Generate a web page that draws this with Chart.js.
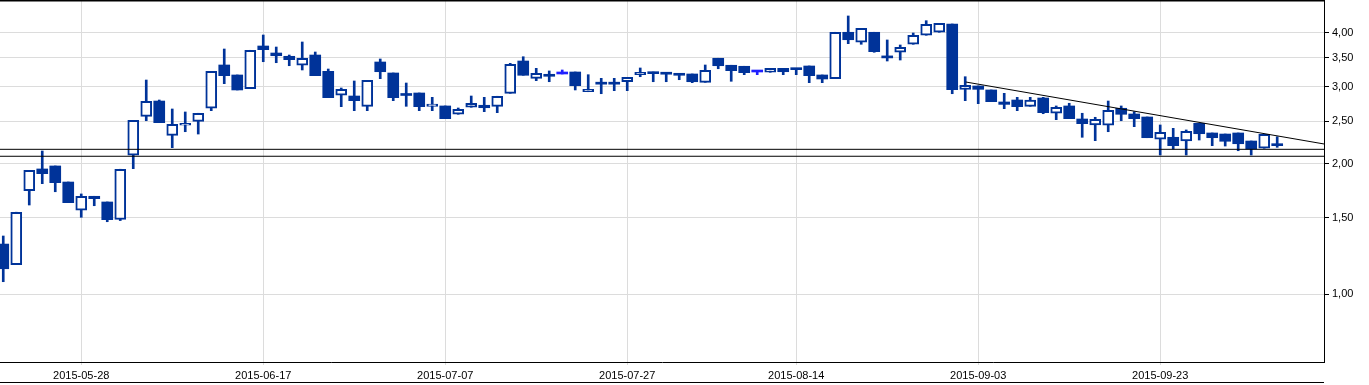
<!DOCTYPE html>
<html>
<head>
<meta charset="utf-8">
<script src="https://cdn.jsdelivr.net/npm/chart.js@4.4.1/dist/chart.umd.min.js"></script>
<style>
  html, body { margin: 0; padding: 0; background: #fff; }
  #wrap { width: 1369px; height: 385px; }
</style>
</head>
<body>
<div id="wrap"><canvas id="priceChart"></canvas></div>
<script>
// daily candles, one per trading day (index 0..98)
const openPrices = [
  1.305, 1.170, 1.732, 1.943, 1.974, 1.813, 1.561, 1.681, 1.631, 1.488,
  2.089, 2.568, 2.785, 2.322, 2.449, 2.501, 2.680, 3.371, 3.197, 2.973,
  3.728, 3.592, 3.530, 3.366, 3.554, 3.260, 2.871, 2.860, 2.708, 3.425,
  3.231, 2.875, 2.906, 2.708, 2.713, 2.596, 2.694, 2.723, 2.708, 2.901,
  3.443, 3.141, 3.202, 3.214, 3.248, 2.926, 3.060, 3.058, 3.085, 3.202,
  3.248, 3.236, 3.219, 3.214, 3.075, 3.493, 3.366, 3.348, 3.248, 3.243,
  3.312, 3.312, 3.353, 3.197, 3.135, 4.009, 3.802, 4.009, 3.510, 3.606,
  3.762, 3.946, 4.009, 4.189, 2.963, 3.016, 2.953, 2.771, 2.800, 2.708,
  2.830, 2.610, 2.713, 2.532, 2.453, 2.449, 2.680, 2.600, 2.559, 2.274,
  2.298, 2.253, 2.475, 2.351, 2.338, 2.351, 2.253, 2.168, 2.209
];
const highPrices = [
  1.362, 1.545, 1.929, 2.137, 1.974, 1.813, 1.702, 1.681, 1.631, 1.940,
  2.514, 3.113, 2.800, 2.670, 2.628, 2.610, 3.260, 3.669, 3.197, 3.644,
  3.952, 3.708, 3.554, 3.808, 3.611, 3.300, 2.984, 3.097, 3.108, 3.480,
  3.231, 3.064, 2.906, 2.840, 2.713, 2.684, 2.860, 2.840, 2.856, 3.401,
  3.522, 3.312, 3.266, 3.283, 3.248, 3.202, 3.141, 3.141, 3.158, 3.318,
  3.248, 3.236, 3.219, 3.214, 3.371, 3.493, 3.366, 3.348, 3.248, 3.312,
  3.312, 3.312, 3.353, 3.197, 4.009, 4.371, 4.094, 4.009, 3.849, 3.748,
  3.994, 4.263, 4.204, 4.189, 3.168, 3.016, 2.953, 2.901, 2.840, 2.840,
  2.840, 2.713, 2.752, 2.610, 2.555, 2.785, 2.713, 2.632, 2.559, 2.453,
  2.410, 2.389, 2.475, 2.351, 2.338, 2.351, 2.253, 2.335, 2.305
];
const lowPrices = [
  1.069, 1.170, 1.605, 1.797, 1.722, 1.625, 1.504, 1.599, 1.469, 1.478,
  1.946, 2.509, 2.483, 2.175, 2.367, 2.338, 2.646, 3.053, 2.953, 2.973,
  3.430, 3.412, 3.358, 3.283, 3.185, 2.835, 2.703, 2.646, 2.646, 3.135,
  2.790, 2.708, 2.646, 2.646, 2.536, 2.596, 2.694, 2.632, 2.618, 2.901,
  3.192, 3.102, 3.085, 3.214, 2.953, 2.926, 2.895, 2.942, 2.942, 3.168,
  3.085, 3.085, 3.118, 3.069, 3.075, 3.305, 3.092, 3.202, 3.202, 3.243,
  3.202, 3.202, 3.069, 3.069, 3.135, 3.774, 3.762, 3.606, 3.443, 3.461,
  3.762, 3.946, 4.009, 2.895, 2.790, 2.746, 2.775, 2.674, 2.646, 2.708,
  2.604, 2.523, 2.536, 2.298, 2.257, 2.367, 2.509, 2.431, 2.293, 2.092,
  2.160, 2.092, 2.265, 2.198, 2.194, 2.140, 2.092, 2.168, 2.179
];
const closePrices = [
  1.145, 1.544, 1.929, 1.895, 1.807, 1.625, 1.681, 1.660, 1.485, 1.940,
  2.514, 2.781, 2.483, 2.462, 2.475, 2.610, 3.260, 3.185, 2.953, 3.644,
  3.656, 3.541, 3.467, 3.493, 3.185, 2.835, 2.963, 2.790, 3.108, 3.253,
  2.835, 2.868, 2.703, 2.741, 2.536, 2.666, 2.752, 2.688, 2.856, 3.383,
  3.192, 3.226, 3.175, 3.214, 3.021, 2.963, 3.045, 3.045, 3.158, 3.243,
  3.219, 3.210, 3.192, 3.085, 3.277, 3.358, 3.271, 3.236, 3.248, 3.312,
  3.253, 3.288, 3.185, 3.130, 4.009, 3.854, 4.094, 3.617, 3.500, 3.702,
  3.946, 4.182, 4.204, 2.957, 3.027, 2.963, 2.775, 2.736, 2.703, 2.800,
  2.618, 2.694, 2.536, 2.470, 2.527, 2.651, 2.596, 2.536, 2.293, 2.360,
  2.198, 2.372, 2.342, 2.293, 2.250, 2.221, 2.160, 2.335, 2.198
];

// axis labels
const tickIndex = [6, 20, 34, 48, 61, 75, 89];
const tickLabels = ['2015-05-28', '2015-06-17', '2015-07-07', '2015-07-27', '2015-08-14', '2015-09-03', '2015-09-23'];
const priceTicks = [1.00, 1.50, 2.00, 2.50, 3.00, 3.50, 4.00];

// drawn lines: two horizontal levels and a falling trend line
const supportLevels = [2.156, 2.078];
const trendIndex = [74.05, 101.6];
const trendPrice = [3.08, 2.218];

const xMin = -0.25, xMax = 101.6;
const yMin = 0.6985, yMax = 4.757;

const navy = '#003399';
const dojiBlue = '#1f1fff';

function candleColor(i) {
  return closePrices[i] === openPrices[i] ? dojiBlue : navy;
}

Chart.defaults.font.family = "'Liberation Sans', Arial, sans-serif";
Chart.defaults.font.size = 11;
Chart.defaults.color = '#000';

const framePlugin = {
  id: 'frame',
  afterDraw(chart) {
    const { ctx, chartArea } = chart;
    ctx.save();
    ctx.strokeStyle = '#000';
    ctx.lineWidth = 1.5;
    ctx.beginPath();
    ctx.moveTo(chartArea.left, 0.75);
    ctx.lineTo(chartArea.right, 0.75);
    ctx.stroke();
    ctx.lineWidth = 1;
    ctx.beginPath();
    ctx.moveTo(chartArea.left, chart.height - 2.5);
    ctx.lineTo(chartArea.right, chart.height - 2.5);
    ctx.stroke();
    ctx.restore();
  }
};

const levelSets = supportLevels.map(level => ({
  type: 'line',
  data: [{ x: xMin, y: level }, { x: xMax, y: level }],
  borderColor: '#000',
  borderWidth: 1,
  pointRadius: 0,
  order: 1
}));

const ctx = document.getElementById('priceChart').getContext('2d');
new Chart(ctx, {
  type: 'bar',
  data: {
    datasets: [
      {
        label: 'wick',
        data: lowPrices.map((l, i) => ({ x: i, y: [l, highPrices[i]] })),
        backgroundColor: c => candleColor(c.dataIndex),
        borderWidth: 0,
        barThickness: 2,
        grouped: false,
        order: 3
      },
      {
        label: 'body',
        data: openPrices.map((o, i) => ({ x: i, y: [o, closePrices[i]] })),
        backgroundColor: c => {
          const i = c.dataIndex;
          if (closePrices[i] > openPrices[i]) return '#fff';
          return candleColor(i);
        },
        borderColor: c => candleColor(c.dataIndex),
        borderWidth: c => closePrices[c.dataIndex] > openPrices[c.dataIndex] ? 2 : 0,
        borderSkipped: false,
        barThickness: 11,
        minBarLength: 2,
        grouped: false,
        order: 2
      },
      ...levelSets,
      {
        type: 'line',
        data: trendIndex.map((x, k) => ({ x, y: trendPrice[k] })),
        borderColor: '#000',
        borderWidth: 1,
        pointRadius: 0,
        order: 1
      }
    ]
  },
  options: {
    responsive: true,
    maintainAspectRatio: false,
    animation: false,
    layout: { padding: 0 },
    plugins: {
      legend: { display: false },
      tooltip: { enabled: false }
    },
    scales: {
      x: {
        type: 'linear',
        min: xMin,
        max: xMax,
        bounds: 'data',
        offset: false,
        grid: { color: '#dcdcdc', tickColor: '#dcdcdc', tickLength: 3, offset: false },
        border: { display: true, color: '#000', width: 1 },
        ticks: {
          autoSkip: false,
          maxRotation: 0,
          padding: 4,
          callback: v => tickLabels[tickIndex.indexOf(v)]
        },
        afterBuildTicks: scale => { scale.ticks = tickIndex.map(v => ({ value: v })); },
        afterFit: scale => {
          scale.height = 23;
          scale.paddingLeft = 0;
          scale.paddingRight = 0;
        }
      },
      y: {
        type: 'logarithmic',
        position: 'right',
        min: yMin,
        max: yMax,
        bounds: 'data',
        grid: { color: '#dcdcdc', tickColor: '#000', tickLength: 5 },
        border: { display: true, color: '#000', width: 1 },
        ticks: {
          padding: 3,
          callback: v => v.toFixed(2).replace('.', ',')
        },
        afterBuildTicks: scale => { scale.ticks = priceTicks.map(v => ({ value: v })); },
        afterFit: scale => {
          scale.width = 45;
          scale.paddingTop = 0;
          scale.paddingBottom = 0;
        }
      }
    }
  },
  plugins: [framePlugin]
});
</script>
</body>
</html>
